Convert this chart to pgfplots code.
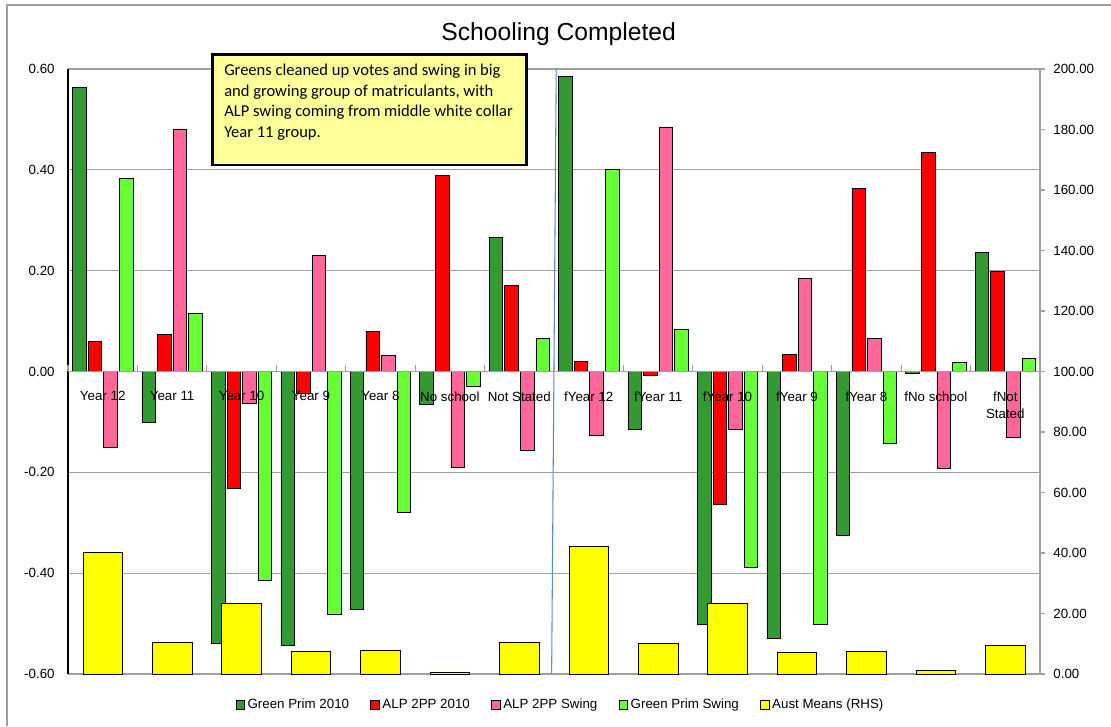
\documentclass[border=0pt]{standalone}
\usepackage{pgfplots}
\usepackage{pgfplotstable}
\pgfplotsset{compat=1.18}
\usepackage{fontspec}
\setmainfont{Liberation Sans}
\newfontfamily\boxfont{Carlito}

\definecolor{dkgreen}{HTML}{339933}
\definecolor{alpred}{HTML}{FF0000}
\definecolor{alppink}{HTML}{FF6699}
\definecolor{ltgreen}{HTML}{66FF33}
\definecolor{ausyellow}{HTML}{FFFF00}
\definecolor{notefill}{HTML}{FFFF99}
\definecolor{gridgray}{HTML}{A0A0A0}
\definecolor{divblue}{HTML}{5B8AC6}

% left axis series + Aust Means (RHS)
\pgfplotstableread{
x  gprim   alp2pp  alpsw   gsw     aust
0  0.564   0.059   -0.150  0.383   40.2
1  -0.100  0.074   0.481   0.115   10.5
2  -0.539  -0.231  -0.063  -0.414  23.5
3  -0.543  -0.044  0.230   -0.482  7.5
4  -0.471  0.080   0.032   -0.280  7.8
5  -0.065  0.389   -0.191  -0.029  0.7
6  0.266   0.171   -0.157  0.065   10.5
7  0.586   0.020   -0.126  0.400   42.3
8  -0.115  -0.007  0.485   0.083   10.2
9  -0.502  -0.263  -0.115  -0.389  23.2
10 -0.530  0.034   0.184   -0.502  7.1
11 -0.324  0.363   0.066   -0.142  7.5
12 -0.004  0.434   -0.193  0.018   1.1
13 0.236   0.198   -0.131  0.027   9.6
}\schooling

\pgfplotsset{
  chartbox/.style={
    at={(51pt,39pt)}, anchor=south west,
    scale only axis, width=729pt, height=453.75pt,
    xmin=-0.5, xmax=13.5,
  },
  barstyle/.style={ybar, draw=black, line width=0.5pt, forget plot},
  numfmt/.style={font=\fontsize{10}{12}\selectfont,
    /pgf/number format/fixed, /pgf/number format/fixed zerofill,
    /pgf/number format/precision=2, /pgf/number format/assume math mode=true},
}

\begin{document}
\begin{tikzpicture}
\useasboundingbox (0,0) rectangle (833.25pt,544.5pt);
\draw[gray!75, line width=0.8pt] (5.25pt,0) -- (5.25pt,540.75pt) -- (833.25pt,540.75pt);

\node[font=\fontsize{18.5}{22}\selectfont] at (419pt,519pt) {Schooling Completed};

% left axis: grid and the four swing/vote series
\begin{axis}[
    chartbox,
    ymin=-0.6, ymax=0.6,
    axis x line=none,
    axis y line*=left,
    y axis line style={black, line width=0.8pt},
    ytick={-0.6,-0.4,-0.2,0,0.2,0.4,0.6},
    ytick style={draw=none},
    ymajorgrids,
    major grid style={gridgray, line width=1pt},
    yticklabel style={numfmt, xshift=-6.5pt},
    clip=false,
]
\addplot[barstyle, bar width=0.195, bar shift=-0.337, fill=dkgreen] table[x=x, y=gprim] {\schooling};
\addplot[barstyle, bar width=0.195, bar shift=-0.112, fill=alpred] table[x=x, y=alp2pp] {\schooling};
\addplot[barstyle, bar width=0.195, bar shift=0.112, fill=alppink] table[x=x, y=alpsw] {\schooling};
\addplot[barstyle, bar width=0.195, bar shift=0.337, fill=ltgreen] table[x=x, y=gsw] {\schooling};
\draw[divblue, line width=0.8pt] (axis cs:6.532,0.6) -- (axis cs:6.466,-0.6);
\end{axis}

% right axis: Aust Means
\begin{axis}[
    chartbox,
    ymin=0, ymax=200,
    axis x line=none,
    axis y line*=right,
    y axis line style={gridgray, line width=1.2pt},
    ytick={0,20,...,200},
    ytick style={gridgray, line width=1pt},
    tick align=outside,
    major tick length=4pt,
    yticklabel style={numfmt, xshift=2.5pt},
    legend image code/.code={\draw[#1, draw=black, line width=0.6pt] (0pt,-3.2pt) rectangle (6.4pt,3.2pt);},
    legend style={at={(0.507,-0.051)}, anchor=center, draw=none, fill=none,
      font=\fontsize{10}{12}\selectfont,
      /tikz/every even column/.append style={column sep=14pt}},
    legend columns=-1,
    clip=false,
]
\addplot[barstyle, bar width=0.57, bar shift=0, fill=ausyellow] table[x=x, y=aust] {\schooling};
\addlegendimage{fill=dkgreen}\addlegendentry{Green Prim 2010}
\addlegendimage{fill=alpred}\addlegendentry{ALP 2PP 2010}
\addlegendimage{fill=alppink}\addlegendentry{ALP 2PP Swing}
\addlegendimage{fill=ltgreen}\addlegendentry{Green Prim Swing}
\addlegendimage{fill=ausyellow}\addlegendentry{Aust Means (RHS)}
\end{axis}

% category axis at zero, drawn last so its labels sit over the bars
\begin{axis}[
    chartbox,
    ymin=-0.6, ymax=0.6,
    axis x line*=middle,
    axis y line=none,
    x axis line style={gridgray, line width=1.2pt},
    xtick={0,...,13},
    xticklabels={Year 12, Year 11, Year 10, Year 9, Year 8, No school, Not Stated,
      fYear 12, fYear 11, fYear 10, fYear 9, fYear 8, fNo school, {fNot\\Stated}},
    xticklabel style={font=\fontsize{10}{12.75}\selectfont, align=center, anchor=north, yshift=-11.5pt},
    major x tick style={draw=none},
    minor xtick={-0.5,0.5,...,13.5},
    minor x tick style={gridgray, line width=0.8pt},
    minor tick length=4.5pt,
    xtick align=inside,
]
\end{axis}

\draw[black, line width=2.2pt, fill=notefill] (159.4pt,420.75pt) rectangle (395.1pt,503.8pt);
\node[anchor=north west, inner sep=0pt, align=left, font=\boxfont\fontsize{12.4}{15.4}\selectfont]
  at (168pt,496.5pt) {Greens cleaned up votes and swing in big\\and growing group of matriculants, with\\ALP swing coming from middle white collar\\Year 11 group.};
\end{tikzpicture}
\end{document}
